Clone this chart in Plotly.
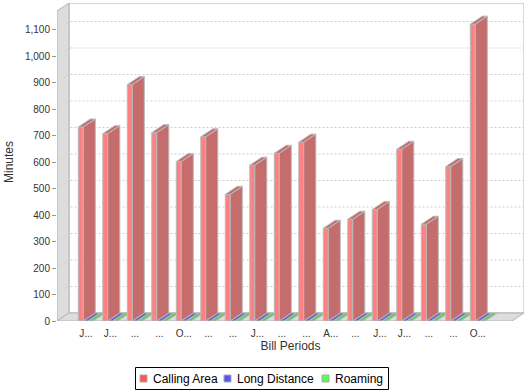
import plotly.graph_objects as go

# ---------------- data ----------------
categories = ["J...", "J...", "...", "...", "O...", "...", "...", "J...", "...", "...",
              "A...", "...", "J...", "J...", "...", "...", "O..."]
calling_area = [732, 707, 892, 711, 602, 695, 478, 588, 633, 675, 350, 384, 421, 648, 365, 583, 1120]
long_distance = [0, 0, 0, 0, 0, 0, 0, 0, 0, 0, 0, 0, 0, 0, 0, 0, 0]
roaming = [0, 0, 0, 0, 0, 0, 0, 0, 0, 0, 0, 0, 0, 0, 0, 0, 0]
series_names = ["Calling Area", "Long Distance", "Roaming"]
y_tick_values = [0, 100, 200, 300, 400, 500, 600, 700, 800, 900, 1000, 1100]

series_values = [calling_area, long_distance, roaming]

# ---------------- styling / geometry ----------------
FONT = "Liberation Sans, Arial, sans-serif"
W, H = 532, 391
L, R, T, B = 57, 8, 3, 70
plot_w = W - L - R
plot_h = H - T - B
step_px = 24.5          # pixels per category
first_px = 28.8         # first category centre from left edge of plot
xa = -first_px / step_px
xb = xa + plot_w / step_px
ymax = 1200
ux = (xb - xa) / plot_w
uy = ymax / plot_h
DX = 12 * ux            # 3D depth offset
DY = 8 * uy
BW = 5 * ux             # bar width

legend_colors = ["rgb(255,85,85)", "rgb(85,85,255)", "rgb(85,255,85)"]
front_colors = ["rgb(255,128,128)", "rgb(128,128,255)", "rgb(128,255,128)"]
dark_colors = ["rgb(197,108,108)", "rgb(108,108,197)", "rgb(108,197,108)"]
outline = "rgb(185,185,185)"
wall = "rgb(221,221,221)"
wall_line = "rgb(180,180,180)"
text_color = "#333333"

fig = go.Figure()

for i in range(len(categories)):
    for s, vals in enumerate(series_values):
        v = vals[i]
        x0 = i - 1.5 * BW + s * BW
        x1 = x0 + BW
        if v > 0:
            fig.add_trace(go.Scatter(
                x=[x0, x1, x1, x0, x0], y=[0, 0, v, v, 0],
                mode="lines", fill="toself", fillcolor=front_colors[s],
                line=dict(color=outline, width=1), hoverinfo="skip", showlegend=False))
        xs = [x0, x1, x1 + DX, x0 + DX, x0]
        ys = [v, v, v + DY, v + DY, v]
        if v > 0:
            xs += [None, x1, x1 + DX, x1 + DX, x1, x1]
            ys += [None, 0, DY, v + DY, v, 0]
        fig.add_trace(go.Scatter(
            x=xs, y=ys, mode="lines", fill="toself", fillcolor=dark_colors[s],
            line=dict(color=outline, width=1), hoverinfo="skip", showlegend=False))

shapes = []
# back wall
shapes.append(dict(type="rect", xref="x", yref="y", x0=xa + DX, x1=xb, y0=DY, y1=ymax,
                   fillcolor="white", line=dict(color=wall_line, width=1), layer="below"))
# left wall
shapes.append(dict(type="path", xref="x", yref="y",
                   path=f"M {xa},0 L {xa},{ymax - DY} L {xa + DX},{ymax} L {xa + DX},{DY} Z",
                   fillcolor=wall, line=dict(color=wall_line, width=1), layer="below"))
# floor
shapes.append(dict(type="path", xref="x", yref="y",
                   path=f"M {xa},0 L {xb - DX},0 L {xb},{DY} L {xa + DX},{DY} Z",
                   fillcolor=wall, line=dict(color=wall_line, width=1), layer="below"))
# gridlines
for v in y_tick_values[1:]:
    shapes.append(dict(type="path", xref="x", yref="y",
                       path=f"M {xa},{v} L {xa + DX},{v + DY} L {xb},{v + DY}",
                       line=dict(color="rgb(205,205,205)", width=1, dash="2px,2px"),
                       layer="below"))

# legend (manual, to match the compact layout)
def px_x(p):
    return (p - L) / plot_w

def px_y(p):
    return (H - B - p) / plot_h

shapes.append(dict(type="rect", xref="paper", yref="paper",
                   x0=px_x(135.5), x1=px_x(388.5), y0=px_y(389.5), y1=px_y(367.5),
                   fillcolor="white", line=dict(color="black", width=1)))
annotations = []
sq_x = [140, 224, 322]
for s, name in enumerate(series_names):
    shapes.append(dict(type="rect", xref="paper", yref="paper",
                       x0=px_x(sq_x[s]), x1=px_x(sq_x[s] + 7), y0=px_y(382), y1=px_y(375),
                       fillcolor=legend_colors[s], line=dict(color="rgb(170,170,170)", width=1)))
    annotations.append(dict(xref="paper", yref="paper", x=px_x(sq_x[s] + 11), y=px_y(378.5),
                            xanchor="left", yanchor="middle", text=name, showarrow=False,
                            font=dict(family=FONT, size=12, color="black")))

fig.update_layout(
    template="none",
    width=W, height=H,
    margin=dict(l=L, r=R, t=T, b=B, pad=0, autoexpand=False),
    paper_bgcolor="white", plot_bgcolor="white",
    showlegend=False,
    shapes=shapes, annotations=annotations,
    font=dict(family=FONT, color=text_color),
    xaxis=dict(range=[xa, xb], tickmode="array", tickvals=list(range(len(categories))),
               ticktext=categories, showgrid=False, zeroline=False, showline=False,
               automargin=False,
               ticks="outside", ticklen=3, tickcolor="rgba(0,0,0,0)",
               tickfont=dict(family=FONT, size=10, color=text_color),
               title=dict(text="Bill Periods", font=dict(family=FONT, size=12, color=text_color),
                          standoff=3),
               fixedrange=True),
    yaxis=dict(range=[0, ymax], tickmode="array", tickvals=y_tick_values,
               ticktext=[f"{v:,}" for v in y_tick_values],
               showgrid=False, zeroline=False, showline=False, automargin=False,
               ticks="outside", ticklen=4, tickcolor="rgb(150,150,150)",
               tickfont=dict(family=FONT, size=10, color=text_color),
               title=dict(text="Minutes", font=dict(family=FONT, size=12, color=text_color),
                          standoff=8),
               fixedrange=True),
)

fig.write_html("out.html", config={"displayModeBar": False},
               post_script="document.body.style.margin='0';document.body.style.overflow='hidden';")
